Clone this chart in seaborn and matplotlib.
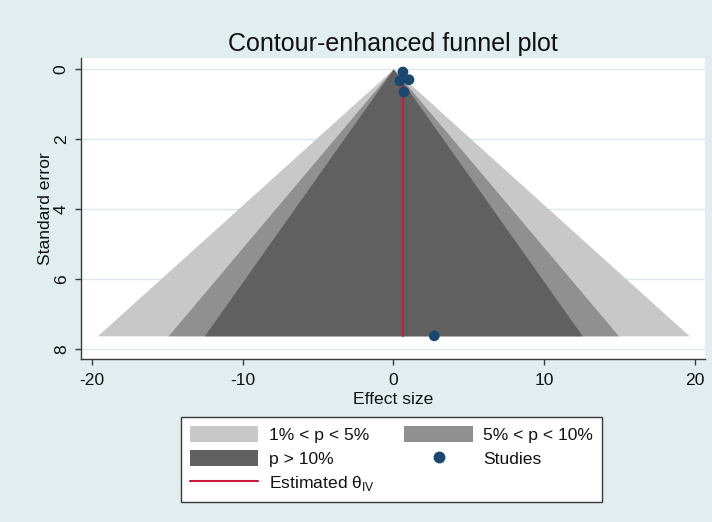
import numpy as np
import pandas as pd
import matplotlib
matplotlib.use("Agg")
import matplotlib.pyplot as plt
from matplotlib.patches import Patch
from matplotlib.lines import Line2D
import seaborn as sns

# Study estimates and their standard errors
effect_size = [0.64, 0.44, 1.04, 0.71, 2.72]
standard_error = [0.09, 0.34, 0.31, 0.66, 7.62]

# Contour bands (two-sided critical z values) and their legend labels
band_z = [2.576, 1.96, 1.645]
band_labels = ["1% < p < 5%", "5% < p < 10%", "p > 10%"]
band_colors = ["#c8c8c8", "#909090", "#606060"]

x_ticks = [-20, -10, 0, 10, 20]
y_ticks = [0, 2, 4, 6, 8]

df = pd.DataFrame({"effect": effect_size, "se": standard_error})
w = 1.0 / df["se"] ** 2
theta_iv = float((w * df["effect"]).sum() / w.sum())
se_max = df["se"].max()

sns.set_theme(style="white")
plt.rcParams["font.family"] = ["Liberation Sans", "DejaVu Sans"]
plt.rcParams["mathtext.fontset"] = "custom"
plt.rcParams["mathtext.rm"] = "Liberation Sans"
plt.rcParams["axes.unicode_minus"] = False

bg = "#e1edef"
grid_col = "#dbe7ea"
fig = plt.figure(figsize=(7.12, 5.22), dpi=100, facecolor=bg)
ax = fig.add_axes([0.1133, 0.3117, 0.9902 - 0.1133, 0.8895 - 0.3117])
ax.set_facecolor("white")

# Funnel contours centred on the null effect
se_line = np.array([0.0, se_max])
for z, col in zip(band_z, band_colors):
    ax.fill_betweenx(se_line, -z * se_line, z * se_line, color=col, lw=0, zorder=1)

# Pooled estimate
pooled = pd.DataFrame({"x": [theta_iv, theta_iv], "y": [0.0, se_max]})
sns.lineplot(data=pooled, x="x", y="y", color="#cc1a3d", lw=1.5, ax=ax,
             estimator=None, sort=False, zorder=3)

# Individual studies
sns.scatterplot(data=df, x="effect", y="se", color="#1a476f", s=60,
                edgecolor="none", ax=ax, zorder=4)

ax.set_xlim(-20.74, 20.68)
ax.set_ylim(8.29, -0.32)
ax.set_xticks(x_ticks)
ax.set_yticks(y_ticks)
ax.yaxis.grid(True, color=grid_col, lw=1.0, zorder=0)
ax.set_axisbelow(True)

for side in ["top", "right"]:
    ax.spines[side].set_visible(False)
for side in ["left", "bottom"]:
    ax.spines[side].set_color("#3a3a3a")
    ax.spines[side].set_linewidth(1.0)

ax.tick_params(axis="both", direction="out", length=4.5, width=1.0,
               color="#3a3a3a", labelsize=12.6, labelcolor="#111111",
               left=True, bottom=True)
ax.tick_params(axis="y", pad=4)
ax.tick_params(axis="x", pad=5.5)
for lab in ax.get_yticklabels():
    lab.set_rotation(90)
    lab.set_va("center")

ax.set_xlabel("Effect size", fontsize=12.6, color="#111111", labelpad=3)
ax.set_ylabel("Standard error", fontsize=12.6, color="#111111", labelpad=0.5)
ax.set_title("Contour-enhanced funnel plot", fontsize=18, color="#111111", pad=5)

handles = [
    Patch(facecolor=band_colors[0], edgecolor="none", label=band_labels[0]),
    Patch(facecolor=band_colors[2], edgecolor="none", label=band_labels[2]),
    Line2D([], [], color="#cc1a3d", lw=1.5, label=r"Estimated θ$_{\rm IV}$"),
    Patch(facecolor=band_colors[1], edgecolor="none", label=band_labels[1]),
    Line2D([], [], ls="none", marker="o", markersize=7.5, color="#1a476f",
           label="Studies"),
]
leg = fig.legend(handles=handles, ncol=2, loc="center",
                 bbox_to_anchor=(391.5 / 712, 1 - 459.5 / 522),
                 fontsize=12.6, frameon=True, fancybox=False, framealpha=1,
                 handlelength=3.9, handleheight=1.0, handletextpad=0.6,
                 columnspacing=1.7, labelspacing=0.4, borderpad=0.5,
                 borderaxespad=0)
leg.get_frame().set_edgecolor("#3a3a3a")
leg.get_frame().set_linewidth(1.0)
leg.get_frame().set_facecolor("white")
for t in leg.get_texts():
    t.set_color("#111111")

fig.savefig("out.png", dpi=100, facecolor=bg)
